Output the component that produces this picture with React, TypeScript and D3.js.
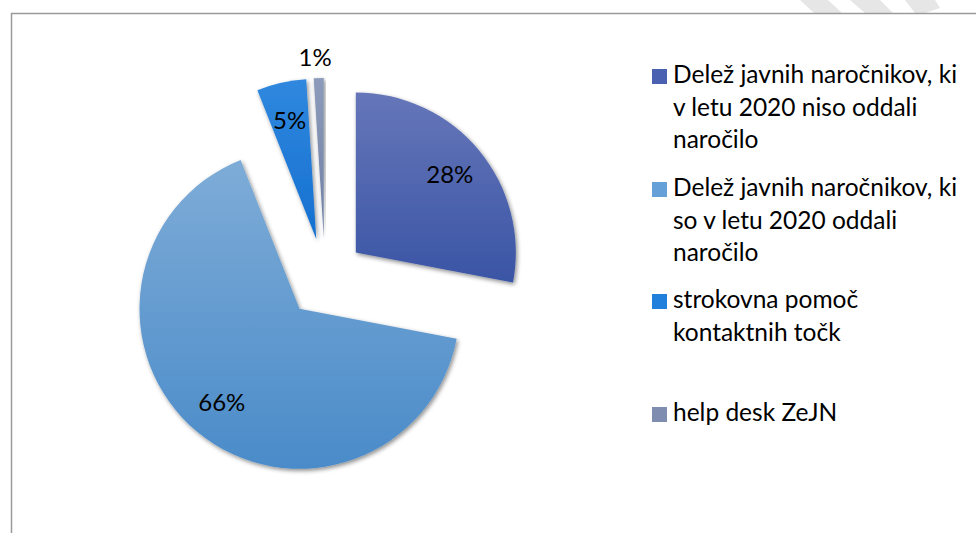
import React from 'react';
import * as d3 from 'd3';

// shares of the pie
const categories = [
  'Delež javnih naročnikov, ki v letu 2020 niso oddali naročilo',
  'Delež javnih naročnikov, ki so v letu 2020 oddali naročilo',
  'strokovna pomoč kontaktnih točk',
  'help desk ZeJN',
];
const values = [28, 66, 5, 1];
const valueLabels = ['28%', '66%', '5%', '1%'];

// legend text wrapped like in the original
const legendLines = [
  ['Delež javnih naročnikov, ki', 'v letu 2020 niso oddali', 'naročilo'],
  ['Delež javnih naročnikov, ki', 'so v letu 2020 oddali', 'naročilo'],
  ['strokovna pomoč', 'kontaktnih točk'],
  ['help desk ZeJN'],
];

const gradients = [
  ['#6676b9', '#3a55a5'],
  ['#7eacd7', '#4a8bc9'],
  ['#3088de', '#1570d0'],
  ['#8d9bbb', '#6f7fa2'],
];
const legendColors = ['#4a60b0', '#65a0d8', '#2180dc', '#7f8db0'];

const FONT = 'Lato, "Open Sans", sans-serif';

export default function App() {
  const width = 976;
  const height = 533;
  const cx = 325;
  const cy = 278;
  const radius = 160;
  const explode = 40;

  const pie = d3.pie<number>().sort(null).value(d => d)(values);
  const arc = d3.arc<d3.PieArcDatum<number>>().innerRadius(0).outerRadius(radius);

  const legendY = d3.scaleOrdinal<number, number>()
    .domain([0, 1, 2, 3])
    .range([83, 196, 308, 421]);
  const lineStep = 32.5;

  return (
    <svg width={width} height={height} style={{ position: 'absolute', left: 0, top: 0 }}>
      <defs>
        {gradients.map((g, i) => (
          <linearGradient key={i} id={`grad${i}`} x1="0" y1="0" x2="0" y2="1">
            <stop offset="0%" stopColor={g[0]} />
            <stop offset="100%" stopColor={g[1]} />
          </linearGradient>
        ))}
        <filter id="shadow" x="-20%" y="-20%" width="140%" height="140%">
          <feDropShadow dx="1.5" dy="2" stdDeviation="2.2" floodColor="#000" floodOpacity="0.45" />
        </filter>
      </defs>
      <rect width={width} height={height} fill="#fff" />

      {/* watermark fragment at top */}
      <polygon points="800,0 828,0 842,13 814,13" fill="#e6e6e6" />
      <polygon points="850,0 880,0 893,13 865,13" fill="#e6e6e6" />
      <polygon points="905,0 935,0 940,8 925,13 915,13" fill="#e6e6e6" />

      {/* chart frame */}
      <path d={`M11.5,${height + 2} V13.5 H${width + 2}`} fill="none" stroke="#9a9a9a" strokeWidth={1.5} />

      <g transform={`translate(${cx},${cy})`}>
        {pie.map((p, i) => {
          const mid = (p.startAngle + p.endAngle) / 2;
          const ox = Math.sin(mid) * explode;
          const oy = -Math.cos(mid) * explode;
          const labelR = p.value < 2 ? radius + 19 : 122;
          const lx = Math.sin(mid) * labelR;
          const ly = -Math.cos(mid) * labelR;
          return (
            <g key={i} transform={`translate(${ox},${oy})`}>
              <path d={arc(p) || ''} fill={`url(#grad${i})`} filter="url(#shadow)" />
              <text
                x={lx + (p.value < 2 ? -3 : 0)}
                y={ly + (p.value < 2 ? -2 : 0)}
                dy="0.36em"
                textAnchor="middle"
                fontFamily={FONT}
                fontSize={24}
                fill="#000"
              >
                {valueLabels[i]}
              </text>
            </g>
          );
        })}
      </g>

      <g>
        {categories.map((c, i) => (
          <g key={c}>
            <rect x={652} y={legendY(i) - 14} width={15} height={15} fill={legendColors[i]} />
            <text x={673} y={legendY(i)} fontFamily={FONT} fontSize={24.5} fill="#000">
              {legendLines[i].map((line, j) => (
                <tspan key={j} x={673} y={legendY(i) + j * lineStep}>{line}</tspan>
              ))}
            </text>
          </g>
        ))}
      </g>
    </svg>
  );
}
